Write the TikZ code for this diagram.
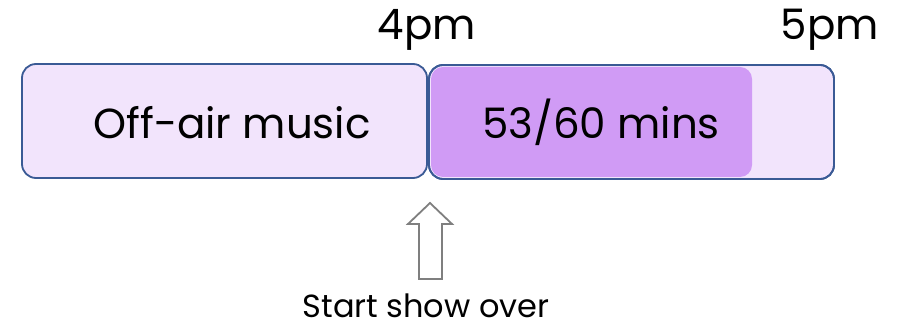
\documentclass[tikz,border=0pt]{standalone}
\usepackage{fontspec}
\setmainfont{Poppins}
\definecolor{lightlav}{HTML}{F2E4FC}
\definecolor{purp}{HTML}{D09BF5}
\definecolor{edgeblue}{HTML}{3A5A95}
\definecolor{arrowgray}{HTML}{7F7F7F}
\begin{document}
\begin{tikzpicture}[x=1pt,y=-1pt,
  slot/.style={draw=edgeblue,line width=1.8pt,fill=lightlav,rounded corners=14pt},
  bigtxt/.style={font=\fontsize{42}{46}\selectfont,inner sep=0pt},
  smalltxt/.style={font=\fontsize{32}{36}\selectfont,inner sep=0pt}]
\useasboundingbox (0,0) rectangle (899,328);
\fill[white] (0,0) rectangle (899,328);
% left box
\draw[slot] (22,64) rectangle (427,178);
\node[bigtxt,anchor=base] (offair) at (232,139) {Off-air music};
% right box
\draw[slot] (429,65) rectangle (834,179);
\fill[purp,rounded corners=12pt] (431,67) rectangle (752,177);
\draw[draw=edgeblue,line width=1.8pt,rounded corners=14pt] (429,65) rectangle (834,179);
\node[bigtxt,anchor=base] (mins) at (601,139) {53/60 mins};
% time labels
\node[bigtxt,anchor=base] (four) at (427,40) {4pm};
\node[bigtxt,anchor=base] (five) at (830,40) {5pm};
% arrow
\draw[arrowgray,line width=1.8pt,fill=white,line join=miter]
  (430,203) -- (452,224) -- (442,224) -- (442,279) -- (419,279) -- (419,224) -- (408,224) -- cycle;
\node[smalltxt,anchor=base] (start) at (426,318) {Start show over};
\end{tikzpicture}
\end{document}
